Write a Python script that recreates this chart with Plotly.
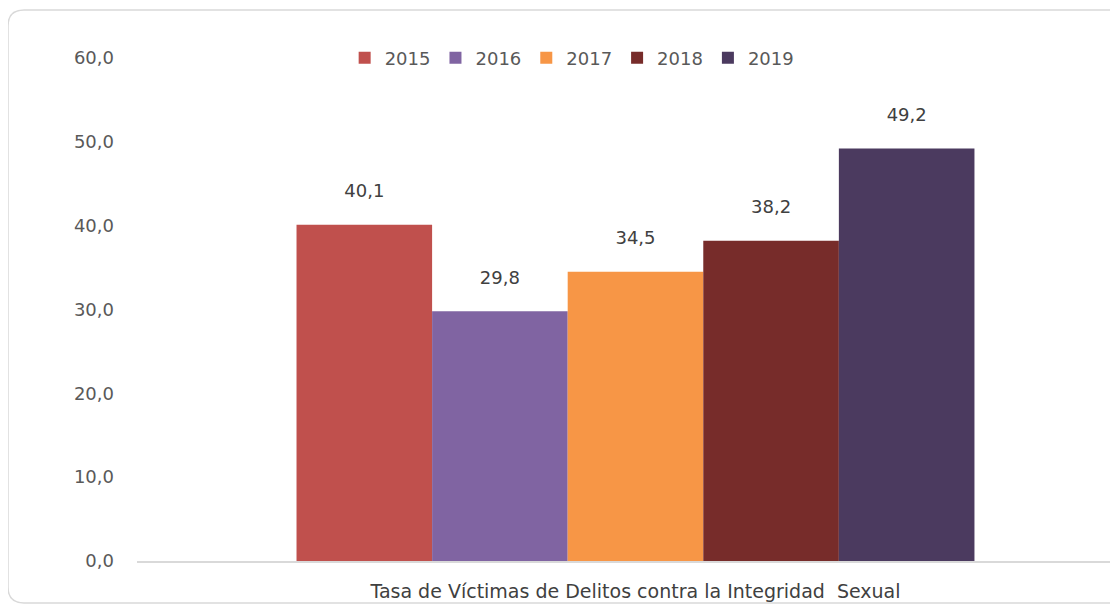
import plotly.graph_objects as go

years = ['2015', '2016', '2017', '2018', '2019']
values = [40.1, 29.8, 34.5, 38.2, 49.2]
colors = ['#C0504D', '#8064A2', '#F79646', '#772C2A', '#4B3A5F']
category = 'Tasa de Víctimas de Delitos contra la Integridad  Sexual'
yticks = [0, 10, 20, 30, 40, 50, 60]

W, H = 1118, 605
L, R, T, B = 129, 0, 50, 52
pw, ph = W - L - R, H - T - B


def px(x):
    return (x - L) / pw


def py(y):
    return (H - B - y) / ph


fig = go.Figure()
for yr, v, c in zip(years, values, colors):
    lbl = f'{v:.1f}'.replace('.', ',')
    fig.add_trace(go.Bar(x=[0], y=[v], name=yr, marker_color=c, marker_line_width=0,
                         text=[lbl + '<br><span style="font-size:4px"> </span>'],
                         textposition='outside', cliponaxis=False,
                         textfont=dict(size=18, color='#404040')))

# rounded frame round the chart
r = 16
x0, y0, x1, y1 = 0, 2, 1125, 595
path = (f'M {px(x0)},{py(y0 + r)} Q {px(x0)},{py(y0)} {px(x0 + r)},{py(y0)} '
        f'L {px(x1 - r)},{py(y0)} Q {px(x1)},{py(y0)} {px(x1)},{py(y0 + r)} '
        f'L {px(x1)},{py(y1 - r)} Q {px(x1)},{py(y1)} {px(x1 - r)},{py(y1)} '
        f'L {px(x0 + r)},{py(y1)} Q {px(x0)},{py(y1)} {px(x0)},{py(y1 - r)} Z')
fig.add_shape(type='path', path=path, xref='paper', yref='paper',
              line=dict(color='#d9d9d9', width=1.5), layer='below')

fig.update_layout(
    width=W, height=H, barmode='group', bargap=0.32, bargroupgap=0,
    margin=dict(l=L, r=R, t=T, b=B),
    paper_bgcolor='white', plot_bgcolor='white',
    font=dict(family='DejaVu Sans, sans-serif', size=18, color='#595959'),
    showlegend=True,
    legend=dict(orientation='h', x=0.44, xanchor='center', y=1.0, yanchor='middle',
                font=dict(size=18, color='#595959'), itemwidth=30, traceorder='normal'),
    xaxis=dict(range=[-0.5, 0.492], tickvals=[0], ticktext=[category], showgrid=False,
               showline=True, linecolor='#d9d9d9', linewidth=1.5, ticks='', zeroline=False,
               tickfont=dict(size=19, color='#404040'), ticklabelstandoff=12),
    yaxis=dict(range=[0, 60], tickvals=yticks,
               ticktext=[f'{t:.1f}'.replace('.', ',') for t in yticks],
               showgrid=False, zeroline=False, showline=False, ticks='',
               ticklabelstandoff=22),
)

fig.write_html('out.html')
